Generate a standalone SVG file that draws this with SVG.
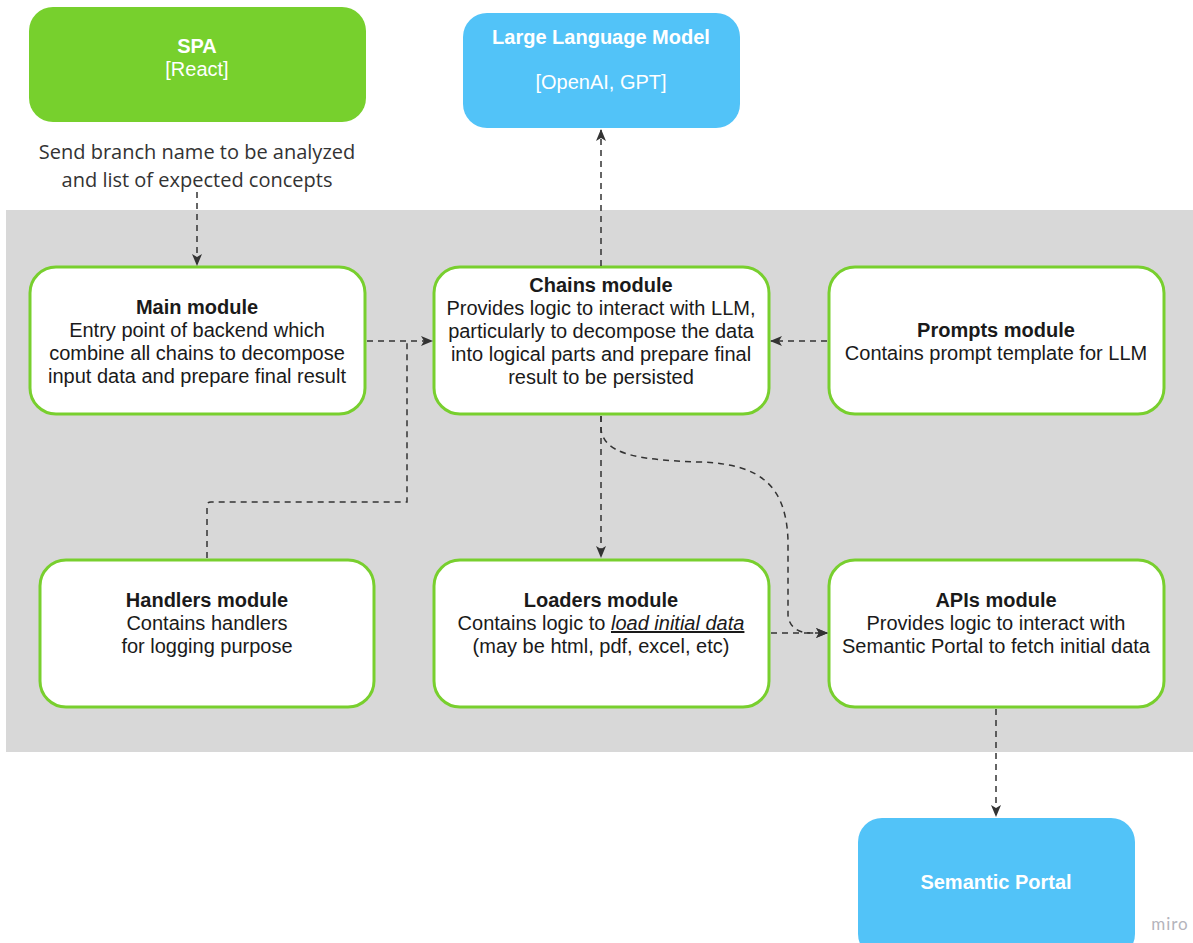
<svg xmlns="http://www.w3.org/2000/svg" width="1193" height="943" viewBox="0 0 1193 943">
  <defs>
    <marker id="arr" viewBox="0 0 12 12" refX="11" refY="6" markerWidth="12" markerHeight="12" markerUnits="userSpaceOnUse" orient="auto">
      <path d="M0,1 L12,6 L0,11 L3,6 Z" fill="#333"/>
    </marker>
    <style>
      .mod { fill: #fff; stroke: #78CF2E; stroke-width: 3; }
      .t { font-family: "Liberation Sans", Arial, sans-serif; font-size: 20px; fill: #1a1a1a; text-anchor: middle; }
      .b { font-weight: bold; }
      .w { fill: #fff; }
      .lbl { font-family: "Open Sans", sans-serif; font-size: 20px; fill: #333; text-anchor: middle; }
      .c { fill: none; stroke: #333; stroke-width: 1.5; stroke-dasharray: 6 5; }
    </style>
  </defs>

  <rect width="1193" height="943" fill="#fff"/>
  <!-- backend area -->
  <rect x="6" y="210" width="1187" height="542" fill="#D8D8D8"/>

  <g id="spa">
    <rect x="29" y="7" width="337" height="115" rx="24" fill="#77D02D"/>
    <text class="t b w" x="197" y="53">SPA</text>
    <text class="t w" x="197" y="76">[React]</text>
  </g>

  <g id="llm">
    <rect x="463" y="13" width="277" height="115" rx="24" fill="#52C3F8"/>
    <text class="t b w" x="601" y="44">Large Language Model</text>
    <text class="t w" x="601" y="89">[OpenAI, GPT]</text>
  </g>

  <g id="spa-label">
    <text class="lbl" x="197" y="159">Send branch name to be analyzed</text>
    <text class="lbl" x="197" y="187">and list of expected concepts</text>
  </g>

  <g id="main">
    <rect class="mod" x="30" y="267" width="335" height="147" rx="26"/>
    <text class="t b" x="197" y="314">Main module</text>
    <text class="t" x="197" y="337">Entry point of backend which</text>
    <text class="t" x="197" y="360">combine all chains to decompose</text>
    <text class="t" x="197" y="383">input data and prepare final result</text>
  </g>

  <g id="chains">
    <rect class="mod" x="434" y="267" width="335" height="147" rx="26"/>
    <text class="t b" x="601" y="292">Chains module</text>
    <text class="t" x="601" y="315">Provides logic to interact with LLM,</text>
    <text class="t" x="601" y="338">particularly to decompose the data</text>
    <text class="t" x="601" y="361">into logical parts and prepare final</text>
    <text class="t" x="601" y="384">result to be persisted</text>
  </g>

  <g id="prompts">
    <rect class="mod" x="829" y="267" width="335" height="147" rx="26"/>
    <text class="t b" x="996" y="337">Prompts module</text>
    <text class="t" x="996" y="360">Contains prompt template for LLM</text>
  </g>

  <g id="handlers">
    <rect class="mod" x="40" y="560" width="334" height="147" rx="26"/>
    <text class="t b" x="207" y="607">Handlers module</text>
    <text class="t" x="207" y="630">Contains handlers</text>
    <text class="t" x="207" y="653">for logging purpose</text>
  </g>

  <g id="loaders">
    <rect class="mod" x="434" y="560" width="335" height="147" rx="26"/>
    <text class="t b" x="601" y="607">Loaders module</text>
    <text class="t" x="601" y="630">Contains logic to <tspan font-style="italic" text-decoration="underline">load initial data </tspan></text>
    <text class="t" x="601" y="653">(may be html, pdf, excel, etc)</text>
  </g>

  <g id="apis">
    <rect class="mod" x="829" y="560" width="335" height="147" rx="26"/>
    <text class="t b" x="996" y="607">APIs module</text>
    <text class="t" x="996" y="630">Provides logic to interact with</text>
    <text class="t" x="996" y="653">Semantic Portal to fetch initial data</text>
  </g>

  <g id="semantic-portal">
    <rect x="858" y="818" width="277" height="140" rx="24" fill="#52C3F8"/>
    <text class="t b w" x="996" y="889">Semantic Portal</text>
  </g>

  <g id="connectors">
    <path class="c" d="M197,192 V265" marker-end="url(#arr)"/>
    <path class="c" d="M601,266 V130" marker-end="url(#arr)"/>
    <path class="c" d="M367,341 H432" marker-end="url(#arr)"/>
    <path class="c" d="M207,558 V506 Q207,502 211,502 H407 V341"/>
    <path class="c" d="M827,341 H771" marker-end="url(#arr)"/>
    <path class="c" d="M601,416 V557" marker-end="url(#arr)"/>
    <path class="c" d="M601,416 V430 C605,452 630,460 700,462 C760,464 786,485 788,540 V615 C789,628 800,633 810,633 H827" marker-end="url(#arr)"/>
    <path class="c" d="M771,633 H827" marker-end="url(#arr)"/>
    <path class="c" d="M996,709 V816" marker-end="url(#arr)"/>
  </g>

  <text x="1170" y="930" font-family="Lato, 'Open Sans', sans-serif" font-size="17" fill="#B4B4BC" text-anchor="middle" letter-spacing="1">miro</text>
</svg>
